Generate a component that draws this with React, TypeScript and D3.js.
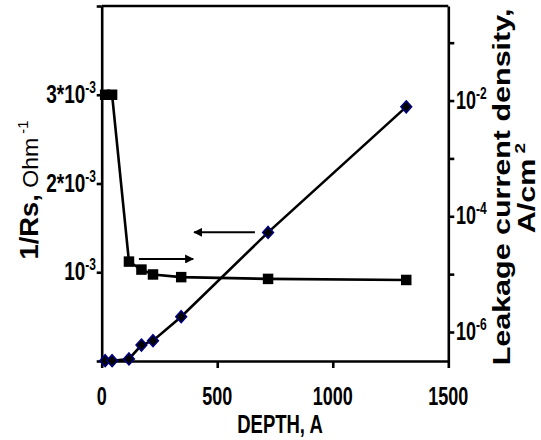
import React, { useRef, useEffect } from "react";
import * as d3 from "d3";

// depth in angstrom, shared by both series
const depth = [15, 45, 118, 172, 222, 344, 720, 1318];
// 1/Rs, Ohm^-1 (left axis, squares)
const invRs = [3.0e-3, 3.0e-3, 1.12e-3, 1.03e-3, 0.975e-3, 0.945e-3, 0.925e-3, 0.913e-3];
// leakage current density, A/cm2 (right axis, diamonds)
const leakage = [3.19e-7, 3.19e-7, 3.42e-7, 5.96e-7, 7.08e-7, 1.84e-6, 5.27e-5, 7.78e-3];

const xTicks = [0, 500, 1000, 1500];
const leftTicks = [0, 1e-3, 2e-3, 3e-3, 4e-3];
const leftLabels = [
  { v: 3e-3, base: "3*10", exp: "-3" },
  { v: 2e-3, base: "2*10", exp: "-3" },
  { v: 1e-3, base: "10", exp: "-3" },
];
const rightTicks = [1e-1, 1e-2, 1e-3, 1e-4, 1e-5, 1e-6];
const rightLabels = [
  { v: 1e-2, base: "10", exp: "-2" },
  { v: 1e-4, base: "10", exp: "-4" },
  { v: 1e-6, base: "10", exp: "-6" },
];
// annotation arrows: [fromDepth, toDepth, value on left axis]
const arrowLeft = [663, 400, 1.45e-3];
const arrowRight = [161, 396, 1.15e-3];

const W = 541, H = 440;
const FONT = "'Liberation Sans', Arial, sans-serif";

const App = () => {
  const xAxisRef = useRef(null),
        leftAxisRef = useRef(null),
        rightAxisRef = useRef(null);

  const x = d3.scaleLinear().domain([0, 1500]).range([101.7, 448.3]);
  const yL = d3.scaleLinear().domain([0, 4e-3]).range([361, 6]);
  const yR = d3.scaleLog().domain([3.155e-7, 0.4305]).range([361, 6]);

  const sq = depth.map((d, i) => ({ d, v: invRs[i] }));
  const dm = depth.map((d, i) => ({ d, v: leakage[i] }));

  const lineL = d3.line().x(p => x(p.d)).y(p => yL(p.v));
  const lineR = d3.line().x(p => x(p.d)).y(p => yR(p.v));
  const square = d3.symbol(d3.symbolSquare, 110)();

  useEffect(() => {
    const style = g => {
      g.selectAll("path.domain").attr("stroke", "#000").attr("stroke-width", 2.6);
      g.selectAll(".tick line").attr("stroke", "#000").attr("stroke-width", 2.6);
      g.selectAll(".tick text").remove();
    };
    d3.select(xAxisRef.current)
      .call(d3.axisBottom(x).tickValues(xTicks).tickSize(7).tickSizeOuter(0))
      .call(style);
    d3.select(leftAxisRef.current)
      .call(d3.axisLeft(yL).tickValues(leftTicks).tickSize(5).tickSizeOuter(0))
      .call(style);
    d3.select(rightAxisRef.current)
      .call(d3.axisRight(yR).tickValues(rightTicks).tickSize(6).tickSizeOuter(0))
      .call(style);
  });

  const stretched = (px, py, sy) => `translate(${px},${py}) scale(1,${sy})`;
  const vertical = (px, py, sx) => `translate(${px},${py}) rotate(-90) scale(${sx},1)`;

  return (
    <svg width={W} height={H} style={{ position: "absolute", left: 0, top: 0 }} fontFamily={FONT}>
      <rect width={W} height={H} fill="#fff" />
      <defs>
        <marker id="ah" viewBox="0 0 10 10" refX="9" refY="5" markerWidth="4.5" markerHeight="4.5" orient="auto-start-reverse">
          <path d="M0,0 L10,5 L0,10 z" fill="#000" />
        </marker>
      </defs>

      {/* frame */}
      <line x1={x(0)} x2={x(1500)} y1={yL(4e-3)} y2={yL(4e-3)} stroke="#000" strokeWidth={2.6} />
      <g ref={xAxisRef} transform={`translate(0,${yL(0)})`} />
      <g ref={leftAxisRef} transform={`translate(${x(0)},0)`} />
      <g ref={rightAxisRef} transform={`translate(${x(1500)},0)`} />

      {/* series */}
      <path d={lineL(sq)} fill="none" stroke="#000" strokeWidth={2.6} />
      <path d={lineR(dm)} fill="none" stroke="#000" strokeWidth={2.6} />
      {sq.map((p, i) => (
        <path key={"s" + i} d={square} transform={`translate(${x(p.d)},${yL(p.v)})`} fill="#000" />
      ))}
      {dm.map((p, i) => (
        <path key={"d" + i} d="M0,-6L5.4,0L0,6L-5.4,0Z" transform={`translate(${x(p.d)},${yR(p.v)})`}
          fill="#000" stroke="#000080" strokeWidth={1.5} />
      ))}

      {/* arrows */}
      <line x1={x(arrowLeft[0])} x2={x(arrowLeft[1])} y1={yL(arrowLeft[2])} y2={yL(arrowLeft[2])}
        stroke="#000" strokeWidth={2} markerEnd="url(#ah)" />
      <line x1={x(arrowRight[0])} x2={x(arrowRight[1])} y1={yL(arrowRight[2])} y2={yL(arrowRight[2])}
        stroke="#000" strokeWidth={2} markerEnd="url(#ah)" />

      {/* x tick labels */}
      {xTicks.map(t => (
        <text key={t} transform={stretched(x(t), 405, 1.42)} textAnchor="middle" fontSize={18} fontWeight="bold">{t}</text>
      ))}
      <text transform={stretched(280, 433, 1.35)} textAnchor="middle" fontSize={18.5} fontWeight="bold">DEPTH, A</text>

      {/* left tick labels */}
      {leftLabels.map(l => (
        <text key={l.v} transform={stretched(96, yL(l.v) + 8, 1.4)} textAnchor="end" fontSize={19} fontWeight="bold">
          {l.base}<tspan fontSize={12} dy={-7}>{l.exp}</tspan>
        </text>
      ))}

      {/* right tick labels */}
      {rightLabels.map(l => (
        <text key={l.v} transform={stretched(456, yR(l.v) + 8, 1.4)} fontSize={18} fontWeight="bold">
          {l.base}<tspan fontSize={12} dy={-7}>{l.exp}</tspan>
        </text>
      ))}

      {/* left axis title */}
      <text transform={vertical(38, 190, 1.05)} textAnchor="middle" fontSize={26} fontWeight="bold">
        1/Rs,<tspan fontSize={22} fontWeight="normal"> Ohm</tspan>
        <tspan fontSize={14} fontWeight="normal" dy={-10}> -1</tspan>
      </text>

      {/* right axis title */}
      <text transform={vertical(510, 187, 1.27)} textAnchor="middle" fontSize={24} fontWeight="bold">
        Leakage current density,
      </text>
      <text transform={vertical(535, 188, 1.27)} textAnchor="middle" fontSize={24} fontWeight="bold">
        A/cm<tspan fontSize={15} dy={-10}> 2</tspan>
      </text>
    </svg>
  );
};

export default App;
